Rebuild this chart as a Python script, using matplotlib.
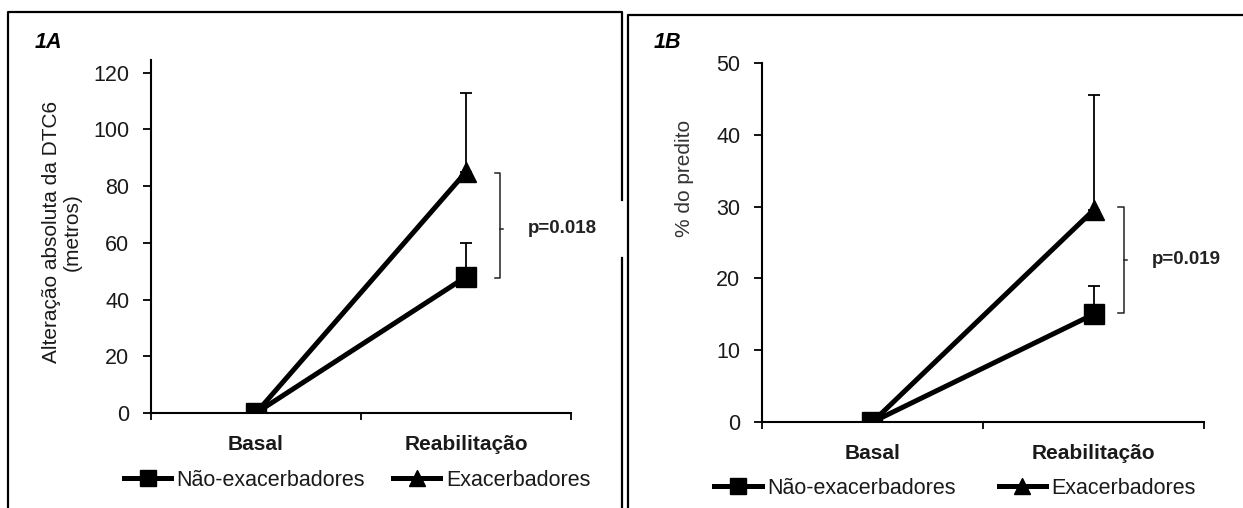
import matplotlib
matplotlib.use("Agg")
import matplotlib.pyplot as plt
from matplotlib.lines import Line2D

plt.rcParams['font.family'] = ['Liberation Sans', 'DejaVu Sans']

# data
categorias = ["Basal", "Reabilitação"]
series = ["Não-exacerbadores", "Exacerbadores"]

dtc6_nao = [0, 48]
dtc6_nao_err = [0, 12]
dtc6_exa = [0, 85]
dtc6_exa_err = [0, 28]

pred_nao = [0, 15]
pred_nao_err = [0, 4]
pred_exa = [0, 29.5]
pred_exa_err = [0, 16]

p_valores = ["p=0.018", "p=0.019"]

W, H = 1243, 508
fig = plt.figure(figsize=(W / 100, H / 100), dpi=100)

def px(x, y):
    return x / W, 1 - y / H

def frame_line(xs, ys):
    fx = [x / W for x in xs]
    fy = [1 - y / H for y in ys]
    fig.add_artist(Line2D(fx, fy, color='black', lw=1.6, transform=fig.transFigure))

# panel borders
frame_line([8, 8, 622, 622], [508, 12, 12, 200])
frame_line([622, 622], [258, 508])
frame_line([628, 628, 1243], [508, 15, 15])

def painel(rect, nao, nao_err, exa, exa_err, ylim, yticks, bracket, ptxt):
    ax = fig.add_axes(rect)
    x = [0, 1]
    ax.errorbar(x, nao, yerr=[[0, 0], nao_err], color='black', lw=3.6,
                marker='s', markersize=14, ecolor='black', elinewidth=1.3,
                capsize=4.5, capthick=1.3, zorder=3)
    ax.errorbar(x, exa, yerr=[[0, 0], exa_err], color='black', lw=3.6,
                marker='^', markersize=14, ecolor='black', elinewidth=1.3,
                capsize=4.5, capthick=1.3, zorder=3)
    ax.set_xlim(-0.5, 1.5)
    ax.set_ylim(*ylim)
    ax.set_yticks(yticks)
    ax.set_xticks([-0.5, 0.5, 1.5])
    ax.set_xticklabels([])
    ax.set_xticks(x, minor=True)
    ax.set_xticklabels(categorias, minor=True, fontweight='bold', fontsize=15, color='#1a1a1a')
    ax.tick_params(axis='x', which='minor', length=0, pad=16)
    ax.tick_params(axis='x', which='major', direction='out', length=5, width=1.3)
    ax.tick_params(axis='y', direction='out', length=5.5, width=1.3, labelsize=15.5,
                   labelcolor='#1a1a1a', pad=10)
    for s in ['top', 'right']:
        ax.spines[s].set_visible(False)
    for s in ['left', 'bottom']:
        ax.spines[s].set_linewidth(1.5)
    # significance bracket
    bx, top, bot, mid, tx = bracket
    ax.plot([bx - 0.025, bx, bx, bx - 0.025], [top, top, bot, bot], color='#222',
            lw=1.1, clip_on=False)
    ax.plot([bx, bx + 0.015], [mid, mid], color='#222', lw=1.1, clip_on=False)
    ax.text(tx, mid, ptxt, fontsize=13.5, fontweight='bold', va='center', ha='left',
            color='#222')
    return ax

ax1 = painel([151 / W, 1 - 413 / H, 420 / W, 353 / H], dtc6_nao, dtc6_nao_err,
             dtc6_exa, dtc6_exa_err, (0, 124.5), range(0, 121, 20),
             (1.162, 84.5, 47.5, 65, 1.296), p_valores[0])
ax2 = painel([762 / W, 1 - 422 / H, 442 / W, 359 / H], pred_nao, pred_nao_err,
             pred_exa, pred_exa_err, (0, 50), range(0, 51, 10),
             (1.138, 29.9, 15.2, 22.6, 1.265), p_valores[1])

# panel labels
fig.text(*px(35, 42), "1A", fontsize=15.5, fontweight='bold', style='italic', va='center')
fig.text(*px(654, 42), "1B", fontsize=15.5, fontweight='bold', style='italic', va='center')

# y labels
fig.text(*px(62, 232), "Alteração absoluta da DTC6\n(metros)", rotation=90,
         ha='center', va='center', multialignment='center', fontsize=15,
         linespacing=1.15, color='#1a1a1a')
fig.text(*px(684, 178), "% do predito", rotation=90, ha='center', va='center',
         fontsize=15, color='#333')

# legends
handles = [Line2D([], [], color='black', lw=3.6, marker='s', markersize=12),
           Line2D([], [], color='black', lw=3.6, marker='^', markersize=12)]
fig.legend(handles, series, loc='center', bbox_to_anchor=px(357, 480), ncol=2,
           frameon=False, fontsize=15.5, handlelength=2.2, handletextpad=0.25,
           columnspacing=1.3, borderpad=0, labelcolor='#1a1a1a')
fig.legend(handles, series, loc='center', bbox_to_anchor=px(955, 488), ncol=2,
           frameon=False, fontsize=15.5, handlelength=2.2, handletextpad=0.25,
           columnspacing=2.0, borderpad=0, labelcolor='#1a1a1a')

fig.savefig("out.png", dpi=100)
